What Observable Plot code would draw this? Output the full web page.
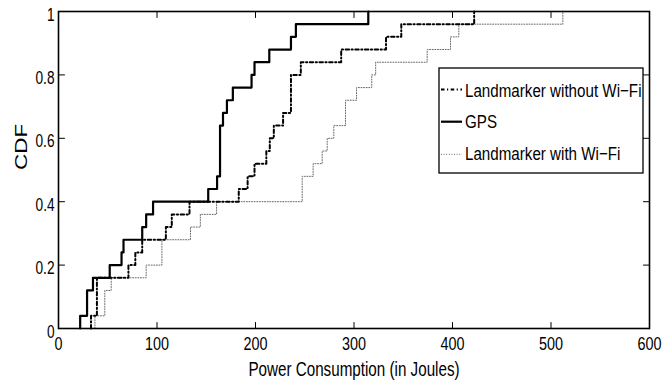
<!DOCTYPE html>
<html>
<head>
<meta charset="utf-8">
<script src="https://cdn.jsdelivr.net/npm/d3@7"></script>
<script src="https://cdn.jsdelivr.net/npm/@observablehq/plot@0.6"></script>
<style>
  html, body { margin: 0; padding: 0; background: #fff; }
</style>
</head>
<body>
<div id="chart"></div>
<script>
// ---- data ----
const seriesNames = ["Landmarker without Wi\u2212Fi", "GPS", "Landmarker with Wi\u2212Fi"];
const withoutWifi = [33, 39, 39, 39, 71, 78, 85, 109, 115, 133, 183, 192, 199, 211, 214.5, 218.6, 228, 236, 236, 236, 246, 287, 332.5, 348, 422];
const gps = [22, 29, 29, 35, 52, 64, 66, 85, 89, 96, 152, 161, 164, 164, 164, 164, 167, 171, 177, 196, 199, 214, 236, 241, 314.5];
const withWifi = [37, 47, 47, 53.5, 89, 105, 105, 134, 144, 160.5, 247.4, 247.4, 258.5, 267.7, 272.8, 279.5, 291.4, 291.4, 302.6, 318, 322, 374.3, 398, 406.4, 512];
const xTicks = [0, 100, 200, 300, 400, 500, 600];
const yTicks = [0, 0.2, 0.4, 0.6, 0.8, 1];
const yTickLabels = ["0", "0.2", "0.4", "0.6", "0.8", "1"];
const xLabel = "Power Consumption (in Joules)";
const yLabel = "CDF";

// empirical CDF as step points
function ecdf(values, name) {
  const v = values.slice().sort((a, b) => a - b);
  const n = v.length;
  return [{series: name, x: v[0], y: 0}, ...v.map((x, i) => ({series: name, x, y: (i + 1) / n}))];
}

const lineStyles = [
  {stroke: "black", strokeWidth: 2, strokeDasharray: "3.5,2.5,1.2,2.5"},
  {stroke: "black", strokeWidth: 2.2, strokeDasharray: null},
  {stroke: "#6a6a6a", strokeWidth: 1, strokeDasharray: "1,1.6"}
];

// inward tick shape for vector marks
const tickShape = {draw(context, l) { context.moveTo(0, 0); context.lineTo(0, -l); }};
const tickOpts = {length: 6, anchor: "start", shape: tickShape, stroke: "black", strokeWidth: 1};

const chart = Plot.plot({
  width: 664,
  height: 390,
  marginLeft: 58,
  marginRight: 15,
  marginTop: 11,
  marginBottom: 62,
  style: {fontFamily: "'Liberation Sans', Arial, sans-serif", fontSize: "18px", background: "white", color: "black"},
  x: {domain: [0, 600]},
  y: {domain: [0, 1]},
  marks: [
    Plot.line(ecdf(withWifi, seriesNames[2]), {x: "x", y: "y", curve: "step-after", ...lineStyles[2]}),
    Plot.line(ecdf(withoutWifi, seriesNames[0]), {x: "x", y: "y", curve: "step-after", ...lineStyles[0]}),
    Plot.line(ecdf(gps, seriesNames[1]), {x: "x", y: "y", curve: "step-after", ...lineStyles[1]}),
    Plot.vector(xTicks, {x: d => d, frameAnchor: "bottom", rotate: 0, ...tickOpts}),
    Plot.vector(xTicks, {x: d => d, frameAnchor: "top", rotate: 180, ...tickOpts}),
    Plot.vector(yTicks, {y: d => d, frameAnchor: "left", rotate: 90, ...tickOpts}),
    Plot.vector(yTicks, {y: d => d, frameAnchor: "right", rotate: -90, ...tickOpts}),
    Plot.frame({stroke: "black", strokeWidth: 1.6}),
    Plot.axisX({anchor: "bottom", ticks: xTicks, tickSize: 0, tickPadding: 9, label: null, fontSize: 18}),
    Plot.axisY({anchor: "left", ticks: yTicks, tickSize: 0, tickPadding: 4, dy: 3, tickFormat: d => yTickLabels[yTicks.indexOf(d)], label: null, fontSize: 19}),
    Plot.text([xLabel], {frameAnchor: "bottom", text: d => d, dy: 47, fontSize: 19.5}),
    Plot.text([yLabel], {frameAnchor: "left", text: d => d, dx: -37, rotate: -90, fontSize: 22.5})
  ]
});

document.getElementById("chart").append(chart);
const svg = chart.tagName.toLowerCase() === "svg" ? chart : chart.querySelector("svg");
const NS = "http://www.w3.org/2000/svg";

// legend
const legend = d3.select(svg).append("g").attr("class", "legend");
legend.append("rect").attr("x", 439).attr("y", 68).attr("width", 204).attr("height", 105)
  .attr("fill", "white").attr("stroke", "black").attr("stroke-width", 1.3);
const legendRows = [89.5, 121.7, 154.3];
const legendBase = [97.5, 128, 160.5];
seriesNames.forEach((name, i) => {
  const s = lineStyles[i];
  legend.append("line").attr("x1", 441).attr("x2", 462).attr("y1", legendRows[i]).attr("y2", legendRows[i])
    .attr("stroke", s.stroke).attr("stroke-width", s.strokeWidth)
    .attr("stroke-dasharray", s.strokeDasharray);
  legend.append("text").attr("class", "legend-text").attr("x", 465).attr("y", legendBase[i])
    .attr("text-anchor", "start").attr("font-size", 18.5).attr("fill", "black").text(name);
});

// horizontally condense text (the reference figure is narrowed)
function squeeze(el, k, pivot) {
  const g = document.createElementNS(NS, "g");
  el.parentNode.insertBefore(g, el);
  g.appendChild(el);
  const b = g.getBBox();
  const px = pivot === "start" ? b.x : pivot === "end" ? b.x + b.width : b.x + b.width / 2;
  g.setAttribute("transform", `translate(${px},0) scale(${k},1) translate(${-px},0)`);
}
svg.querySelectorAll('[aria-label="x-axis tick label"] text').forEach(t => squeeze(t, 0.8, "middle"));
svg.querySelectorAll('[aria-label="y-axis tick label"] text').forEach(t => squeeze(t, 0.72, "end"));
svg.querySelectorAll('[aria-label="text"] text').forEach(t => {
  if (t.textContent === yLabel) squeeze(t, 0.72, "middle");
  else squeeze(t, 0.78, "middle");
});
svg.querySelectorAll('.legend-text').forEach(t => squeeze(t, 0.82, "start"));
</script>
</body>
</html>
